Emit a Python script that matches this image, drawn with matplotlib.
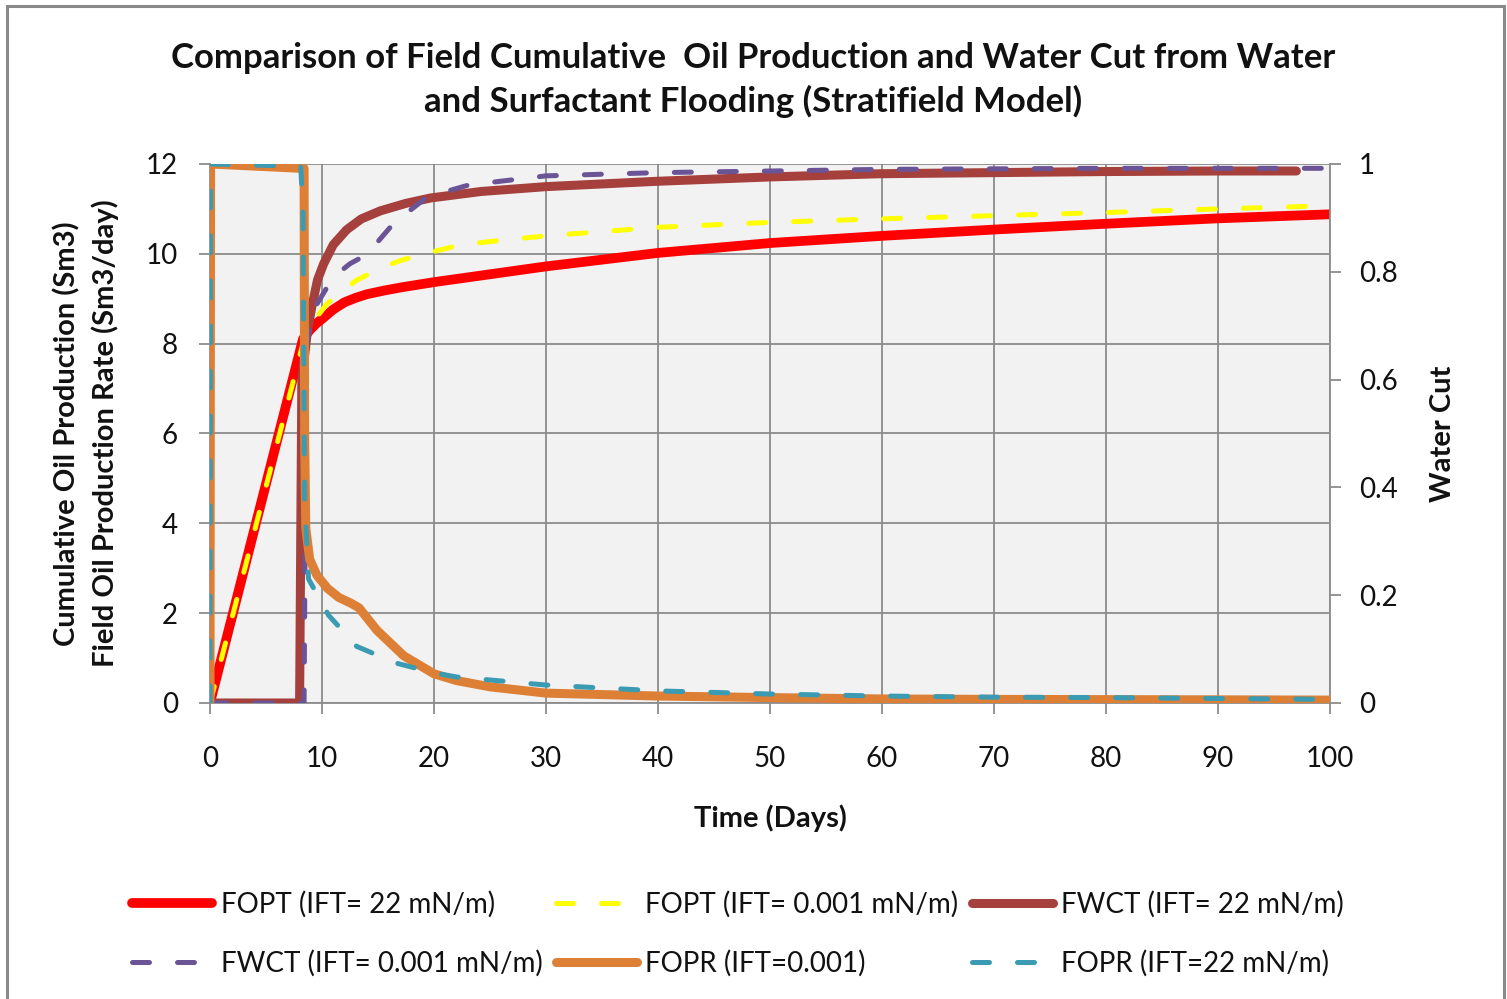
import matplotlib.pyplot as plt
from matplotlib.patches import Rectangle

plt.rcParams['font.family'] = ['Lato', 'DejaVu Sans']

# time (days) and values for each series
fopt_22_t = [0, 8.3, 8.9, 9.5, 10, 11, 12, 13, 14, 15.5, 17, 20, 24, 30, 40, 50, 60, 70, 80, 90, 100]
fopt_22 = [0, 8.1, 8.3, 8.45, 8.55, 8.76, 8.92, 9.02, 9.1, 9.18, 9.25, 9.37, 9.51, 9.72, 10.02, 10.24, 10.4, 10.54, 10.67, 10.79, 10.88]

fopt_001_t = [0, 8.3, 9.0, 9.55, 10.5, 11.6, 13, 15.2, 17, 18.8, 22.4, 26, 30, 40, 50, 60, 70, 80, 90, 100]
fopt_001 = [0, 8.0, 8.35, 8.6, 8.9, 9.12, 9.4, 9.68, 9.85, 9.98, 10.2, 10.3, 10.4, 10.59, 10.7, 10.78, 10.85, 10.92, 11.0, 11.07]

fwct_22_t = [0, 8.0, 8.2, 8.7, 9.1, 9.6, 10.15, 11, 12.2, 13.5, 15.2, 17.5, 19.7, 24.2, 30, 40, 50, 60, 70, 80, 90, 97]
fwct_22 = [0, 0, 0.6, 0.69, 0.736, 0.785, 0.815, 0.85, 0.878, 0.898, 0.913, 0.927, 0.937, 0.949, 0.958, 0.968, 0.976, 0.982, 0.984, 0.986, 0.987, 0.987]

fwct_001_t = [0, 8.4, 8.6, 9.25, 11.0, 12.5, 14.0, 16.4, 19.4, 23.1, 30, 40, 50, 60, 70, 80, 90, 100]
fwct_001 = [0, 0, 0.66, 0.73, 0.79, 0.815, 0.832, 0.89, 0.939, 0.961, 0.978, 0.984, 0.987, 0.99, 0.991, 0.992, 0.992, 0.992]

fopr_001_t = [0, 0.05, 8.4, 8.45, 8.55, 8.9, 9.55, 10.5, 11.5, 12.6, 13.3, 14.9, 17.3, 20, 22, 25, 30, 40, 50, 60, 70, 80, 90, 100]
fopr_001 = [0, 12, 11.9, 6, 3.9, 3.2, 2.84, 2.55, 2.35, 2.22, 2.12, 1.62, 1.05, 0.65, 0.5, 0.36, 0.22, 0.155, 0.12, 0.09, 0.08, 0.075, 0.07, 0.065]

fopr_22_t = [0, 0.05, 8.1, 8.3, 8.45, 8.8, 10.6, 13.1, 16.6, 20, 22, 30, 40, 50, 60, 70, 80, 90, 100]
fopr_22 = [0, 12, 11.95, 11.0, 4.5, 2.76, 1.95, 1.26, 0.89, 0.67, 0.58, 0.40, 0.27, 0.2, 0.155, 0.13, 0.12, 0.1, 0.08]

x_ticks = list(range(0, 101, 10))
left_ticks = list(range(0, 13, 2))
right_ticks = [0, 0.2, 0.4, 0.6, 0.8, 1]
right_tick_labels = ['0', '0.2', '0.4', '0.6', '0.8', '1']

grid_c = '#8c8c8c'
text_c = '#111111'

fig = plt.figure(figsize=(15.07, 9.99), dpi=100)
fig.patches.append(Rectangle((0.0044, -0.05), 0.9936, 1.044, transform=fig.transFigure,
                             fill=False, edgecolor='#8a8a8a', linewidth=2.2))

ax = fig.add_axes([0.13935, 0.2963, 0.7432, 0.53954])
ax.set_facecolor('#f2f2f2')
ax.set_xlim(0, 100)
ax.set_ylim(0, 12)
ax.set_xticks(x_ticks)
ax.set_yticks(left_ticks)
ax.grid(True, color=grid_c, linewidth=1.3)
ax.set_axisbelow(True)
for s in ['top', 'right']:
    ax.spines[s].set_visible(False)
for s in ['left', 'bottom']:
    ax.spines[s].set_color(grid_c)
    ax.spines[s].set_linewidth(1.3)
ax.tick_params(axis='x', direction='out', length=8, width=1.3, color=grid_c,
               labelsize=20, labelcolor=text_c, pad=23)
ax.tick_params(axis='y', direction='out', length=8, width=1.3, color=grid_c,
               labelsize=20, labelcolor=text_c, pad=15)

ax2 = ax.twinx()
ax2.set_ylim(0, 1)
ax2.set_yticks(right_ticks)
ax2.set_yticklabels(right_tick_labels)
for s in ['top', 'left', 'bottom']:
    ax2.spines[s].set_visible(False)
ax2.spines['right'].set_color(grid_c)
ax2.spines['right'].set_linewidth(1.3)
ax2.tick_params(axis='y', direction='out', length=8, width=1.3, color=grid_c,
                labelsize=20, labelcolor=text_c, pad=13)

# rates go on their own layer so they sit above the water cut curves
ax3 = ax.twinx()
ax3.set_ylim(0, 12)
ax3.set_axis_off()

solid = dict(solid_capstyle='round', solid_joinstyle='round')
dashed = dict(dash_capstyle='round', dash_joinstyle='round', dashes=(3.4, 5.6))

l1, = ax.plot(fopt_22_t, fopt_22, color='#ff0000', lw=7, **solid,
              label='FOPT (IFT= 22 mN/m)')
l2, = ax.plot(fopt_001_t, fopt_001, color='#ffff00', lw=3.6, **dashed,
              label='FOPT (IFT= 0.001 mN/m)')
l3, = ax2.plot(fwct_22_t, fwct_22, color='#a5403d', lw=6.5, **solid,
               label='FWCT (IFT= 22 mN/m)')
l4, = ax2.plot(fwct_001_t, fwct_001, color='#6b5496', lw=3.6, **dashed,
               label='FWCT (IFT= 0.001 mN/m)')
l5, = ax3.plot(fopr_001_t, fopr_001, color='#dd8036', lw=6.5, **solid,
               label='FOPR (IFT=0.001)')
l6, = ax3.plot(fopr_22_t, fopr_22, color='#3a9bb2', lw=3.6, **dashed,
               label='FOPR (IFT=22 mN/m)')

fig.text(0.4997, 0.9204,
         'Comparison of Field Cumulative  Oil Production and Water Cut from Water\n'
         'and Surfactant Flooding (Stratifield Model)',
         ha='center', va='center', fontsize=25, fontweight='bold', color=text_c,
         linespacing=1.4)
fig.text(0.0571, 0.566,
         'Cumulative Oil Production (Sm3)\nField Oil Production Rate (Sm3/day)',
         rotation=90, ha='center', va='center', fontsize=21, fontweight='bold',
         color=text_c, linespacing=1.5)
fig.text(0.9575, 0.566, 'Water Cut', rotation=90, ha='center', va='center',
         fontsize=21, fontweight='bold', color=text_c)
fig.text(0.511, 0.181, 'Time (Days)', ha='center', va='center', fontsize=21,
         fontweight='bold', color=text_c)

handles = [l1, l4, l2, l5, l3, l6]
fig.legend(handles, [h.get_label() for h in handles], ncol=3, loc='center',
           bbox_to_anchor=(0.4897, 0.0656), frameon=False, fontsize=20,
           handlelength=2.9, handletextpad=0.3, columnspacing=0.5,
           labelspacing=1.15, labelcolor=text_c)

fig.savefig('out.png', dpi=100)
